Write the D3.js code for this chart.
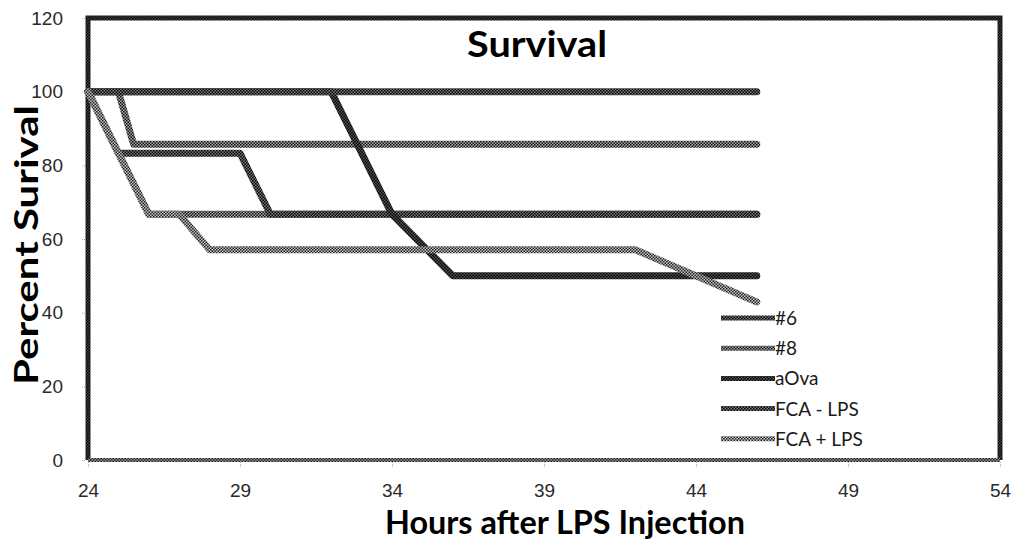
<!DOCTYPE html>
<html lang="en">
<head>
<meta charset="utf-8">
<script src="https://d3js.org/d3.v7.min.js"></script>
<style>
  body { margin: 0; background: #fff; }
  svg { display: block; font-family: Lato, "Open Sans", sans-serif; }
</style>
</head>
<body>
<section id="container"></section>
<script>

// hours after injection / percent survival
var hours6    = [24, 25, 29, 30, 46];
var surv6     = [100, 83.3, 83.3, 66.7, 66.7];

var hours8    = [24, 25, 25.5, 46];
var surv8     = [100, 100, 85.7, 85.7];

var hoursOva  = [24, 32, 34, 36, 46];
var survOva   = [100, 100, 66.7, 50, 50];

var hoursNeg  = [24, 46];
var survNeg   = [100, 100];

var hoursPos  = [24, 26, 27, 28, 42, 46];
var survPos   = [100, 66.7, 66.7, 57.1, 57.1, 42.9];

// unlabelled light trace that stays at 66.7 (hidden under #6 later on)
var hoursX    = [24, 26, 46];
var survX     = [100, 66.7, 66.7];

var xTicks = [24, 29, 34, 39, 44, 49, 54];
var yTicks = [0, 20, 40, 60, 80, 100, 120];

var legendNames = ["#6", "#8", "aOva", "FCA - LPS", "FCA + LPS"];

var width = 1016, height = 542;

var svg = d3.select("#container")
  .append("svg")
    .attr("width", width)
    .attr("height", height);

// halftone-ish checker patterns: dark squares on a grey ground
var defs = svg.append("defs");
var shades = {
  dark:    ["#000", "#555"],
  mid:     ["#000", "#7a7a7a"],
  light:   ["#111", "#a8a8a8"],
  lighter: ["#222", "#c4c4c4"],
  frame:   ["#000", "#444"],
  axis:    ["#222", "#999"]
};
Object.keys(shades).forEach(function(k) {
  var p = defs.append("pattern")
    .attr("id", "pat-" + k)
    .attr("patternUnits", "userSpaceOnUse")
    .attr("width", 3).attr("height", 3);
  p.append("rect").attr("width", 3).attr("height", 3).attr("fill", shades[k][1]);
  p.append("rect").attr("x", 0).attr("y", 0).attr("width", 1.5).attr("height", 1.5).attr("fill", shades[k][0]);
  p.append("rect").attr("x", 1.5).attr("y", 1.5).attr("width", 1.5).attr("height", 1.5).attr("fill", shades[k][0]);
});

var x = d3.scaleLinear().domain([24, 54]).range([88, 1000]);
var y = d3.scaleLinear().domain([0, 120]).range([460, 18]);

// plot frame (left, top, right dark; bottom axis lighter)
var fr = svg.append("g").attr("fill", "none").attr("stroke-width", 5);
fr.append("path")
  .attr("d", "M" + x(24) + "," + y(0) + "V" + y(120) + "H" + x(54) + "V" + y(0))
  .attr("stroke", "url(#pat-frame)");
fr.append("line")
  .attr("x1", x(24)).attr("x2", x(54))
  .attr("y1", y(0)).attr("y2", y(0))
  .attr("stroke", "url(#pat-axis)")
  .attr("stroke-width", 4);

// axes
var yAxis = d3.axisLeft(y).tickValues(yTicks).tickSize(4).tickPadding(18);
var gy = svg.append("g").attr("transform", "translate(" + (x(24) - 3) + ",0)").call(yAxis);
gy.select(".domain").remove();
gy.selectAll(".tick line").attr("stroke", "#aaa").attr("stroke-dasharray", "1,1");
gy.selectAll(".tick text").attr("font-size", 19).attr("fill", "#2a2a2a");

var xAxis = d3.axisBottom(x).tickValues(xTicks).tickSize(5).tickPadding(17);
var gx = svg.append("g").attr("transform", "translate(0," + (y(0) + 2) + ")").call(xAxis);
gx.select(".domain").remove();
gx.selectAll(".tick line").attr("stroke", "#aaa").attr("stroke-dasharray", "1,1");
gx.selectAll(".tick text").attr("font-size", 19).attr("fill", "#2a2a2a");

// titles
svg.append("text")
  .attr("x", 537).attr("y", 57)
  .attr("text-anchor", "middle")
  .attr("font-size", 37).attr("font-weight", "bold")
  .attr("textLength", 140).attr("lengthAdjust", "spacingAndGlyphs")
  .text("Survival");

svg.append("text")
  .attr("x", 565).attr("y", 534)
  .attr("text-anchor", "middle")
  .attr("font-size", 32).attr("font-weight", "bold")
  .attr("textLength", 360).attr("lengthAdjust", "spacingAndGlyphs")
  .text("Hours after LPS Injection");

svg.append("text")
  .attr("transform", "translate(38,245) rotate(-90)")
  .attr("text-anchor", "middle")
  .attr("font-size", 32).attr("font-weight", "bold")
  .attr("textLength", 280).attr("lengthAdjust", "spacingAndGlyphs")
  .text("Percent Surival");

// series (drawing order = Excel series order)
var series = [
  { name: null,        hours: hoursX,   surv: survX,   shade: "light" },
  { name: "#6",        hours: hours6,   surv: surv6,   shade: "mid" },
  { name: "#8",        hours: hours8,   surv: surv8,   shade: "light" },
  { name: "aOva",      hours: hoursOva, surv: survOva, shade: "dark" },
  { name: "FCA - LPS", hours: hoursNeg, surv: survNeg, shade: "mid" },
  { name: "FCA + LPS", hours: hoursPos, surv: survPos, shade: "lighter" }
];

var line = d3.line()
  .x(function(d) { return x(d[0]); })
  .y(function(d) { return y(d[1]); });

svg.append("g").selectAll("path")
  .data(series)
  .enter().append("path")
    .attr("d", function(s) { return line(d3.zip(s.hours, s.surv)); })
    .attr("fill", "none")
    .attr("stroke", function(s) { return "url(#pat-" + s.shade + ")"; })
    .attr("stroke-width", 7)
    .attr("stroke-linejoin", "round")
    .attr("stroke-linecap", "round");

// legend
var legendRows = series.filter(function(s) { return legendNames.indexOf(s.name) >= 0; });
var lg = svg.append("g");
legendRows.forEach(function(s, i) {
  var ly = 318 + i * 30.2;
  lg.append("line")
    .attr("x1", 721).attr("x2", 775)
    .attr("y1", ly).attr("y2", ly)
    .attr("stroke", "url(#pat-" + s.shade + ")")
    .attr("stroke-width", 5);
  lg.append("text")
    .attr("x", 775).attr("y", ly + 7)
    .attr("font-size", 19).attr("fill", "#1a1a1a")
    .text(s.name);
});

</script>
</body>
</html>
